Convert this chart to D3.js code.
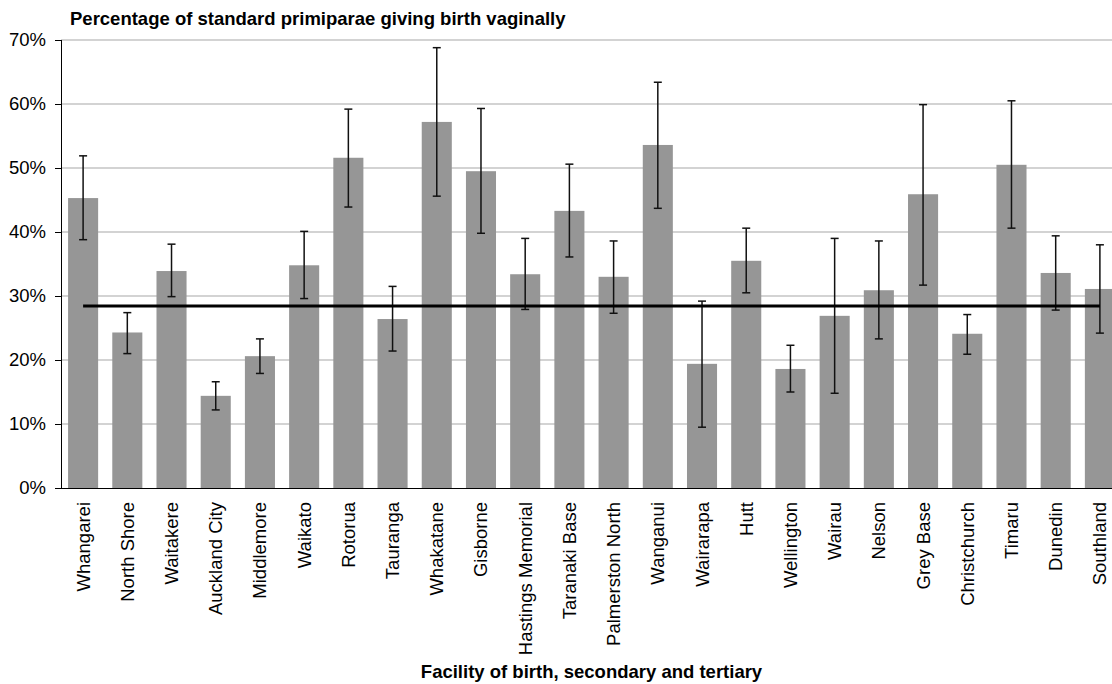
<!DOCTYPE html>
<html>
<head>
<meta charset="utf-8">
<script src="https://cdn.jsdelivr.net/npm/d3@7"></script>
<style>
  html, body { margin: 0; padding: 0; background: #fff; }
  svg { display: block; font-family: "Liberation Sans", Arial, sans-serif; }
</style>
</head>
<body>
<svg id="chart" width="1112" height="684"></svg>
<script>
const categories = ["Whangarei","North Shore","Waitakere","Auckland City","Middlemore","Waikato","Rotorua","Tauranga","Whakatane","Gisborne","Hastings Memorial","Taranaki Base","Palmerston North","Wanganui","Wairarapa","Hutt","Wellington","Wairau","Nelson","Grey Base","Christchurch","Timaru","Dunedin","Southland"];
const values   = [45.3, 24.3, 33.9, 14.4, 20.6, 34.8, 51.6, 26.4, 57.2, 49.5, 33.4, 43.3, 33.0, 53.6, 19.4, 35.5, 18.6, 26.9, 30.9, 45.9, 24.1, 50.5, 33.6, 31.1];
const errLow   = [38.8, 21.0, 29.9, 12.2, 17.9, 29.6, 43.9, 21.4, 45.6, 39.8, 27.9, 36.1, 27.3, 43.7, 9.5, 30.5, 15.0, 14.8, 23.3, 31.7, 20.9, 40.6, 27.8, 24.2];
const errHigh  = [51.9, 27.4, 38.1, 16.6, 23.3, 40.1, 59.2, 31.5, 68.8, 59.3, 39.0, 50.6, 38.6, 63.4, 29.2, 40.6, 22.3, 39.0, 38.6, 59.9, 27.1, 60.5, 39.4, 38.0];
const meanValue = 28.45;
const yTicks = [0, 10, 20, 30, 40, 50, 60, 70];
const chartTitle = "Percentage of standard primiparae giving birth vaginally";
const xTitle = "Facility of birth, secondary and tertiary";

(function () {
const svg = d3.select("#chart");
const mLeft = 61, mRight = 1122, mTop = 40, mBottom = 488;
const fs = 18.5;

const x = d3.scaleBand().domain(categories).range([mLeft, mRight]).paddingInner(0.32).paddingOuter(0.16);
const y = d3.scaleLinear().domain([0, 70]).range([mBottom, mTop]);

// gridlines
svg.append("g").selectAll("line").data(yTicks.filter(d => d > 0)).join("line")
  .attr("x1", mLeft).attr("x2", mRight)
  .attr("y1", d => y(d)).attr("y2", d => y(d))
  .attr("stroke", "#c4c4c4").attr("stroke-width", 1.5);

// bars
svg.append("g").selectAll("rect").data(categories).join("rect")
  .attr("x", d => x(d)).attr("width", x.bandwidth())
  .attr("y", (d, i) => y(values[i])).attr("height", (d, i) => y(0) - y(values[i]))
  .attr("fill", "#969696");

// error bars
const eb = svg.append("g").attr("stroke", "#111").attr("stroke-width", 1.5);
categories.forEach((c, i) => {
  const cx = x(c) + x.bandwidth() / 2;
  eb.append("line").attr("x1", cx).attr("x2", cx).attr("y1", y(errLow[i])).attr("y2", y(errHigh[i]));
  eb.append("line").attr("x1", cx - 4).attr("x2", cx + 4).attr("y1", y(errLow[i])).attr("y2", y(errLow[i]));
  eb.append("line").attr("x1", cx - 4).attr("x2", cx + 4).attr("y1", y(errHigh[i])).attr("y2", y(errHigh[i]));
});

// mean line
const firstC = x(categories[0]) + x.bandwidth() / 2;
const lastC = x(categories[categories.length - 1]) + x.bandwidth() / 2;
svg.append("line")
  .attr("x1", firstC).attr("x2", lastC)
  .attr("y1", y(meanValue)).attr("y2", y(meanValue))
  .attr("stroke", "#000").attr("stroke-width", 3);

// y axis
const yAxis = svg.append("g").attr("transform", `translate(${mLeft},0)`)
  .call(d3.axisLeft(y).tickValues(yTicks).tickSize(6).tickPadding(9).tickFormat(d => d + "%"));
yAxis.select(".domain").attr("stroke", "#000").attr("stroke-width", 1).attr("d", `M0.5,${mTop}V${mBottom}`);
yAxis.selectAll(".tick line").attr("stroke", "#000");
yAxis.selectAll("text").attr("font-size", fs).attr("fill", "#000").attr("font-family", "Liberation Sans, Arial, sans-serif");

// x axis line
svg.append("line").attr("x1", mLeft - 6).attr("x2", mRight).attr("y1", mBottom + 0.5).attr("y2", mBottom + 0.5)
  .attr("stroke", "#000").attr("stroke-width", 1);

// x labels
svg.append("g").selectAll("text").data(categories).join("text")
  .attr("transform", d => `translate(${x(d) + x.bandwidth() / 2},502) rotate(-90)`)
  .attr("text-anchor", "end").attr("dy", "0.35em")
  .attr("font-size", fs).attr("fill", "#000")
  .text(d => d);

// titles
svg.append("text").attr("x", 70).attr("y", 25).attr("font-size", fs).attr("font-weight", "bold").attr("fill", "#000").text(chartTitle);
svg.append("text").attr("x", (mLeft + mRight) / 2).attr("y", 678).attr("text-anchor", "middle")
  .attr("font-size", fs).attr("font-weight", "bold").attr("fill", "#000").text(xTitle);
})();
</script>
</body>
</html>
